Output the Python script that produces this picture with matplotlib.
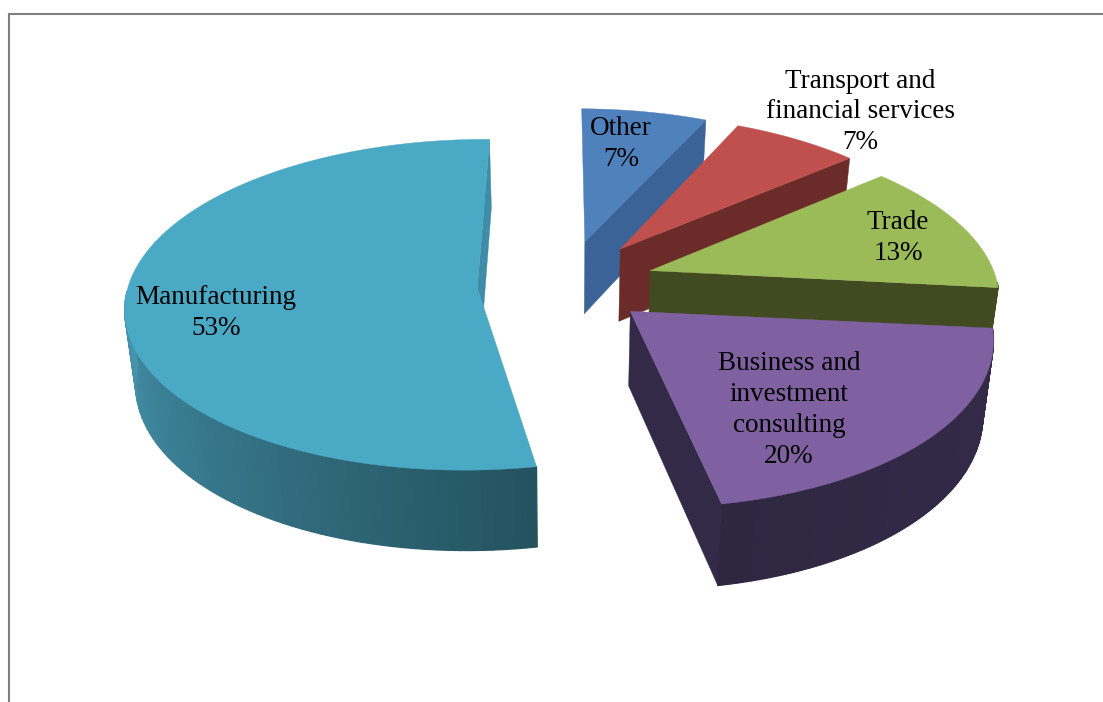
import numpy as np
import matplotlib
matplotlib.use("Agg")
import matplotlib.pyplot as plt
from matplotlib.patches import Polygon
from matplotlib.colors import to_rgb

# clockwise from the top of the pie
categories = ["Manufacturing", "Other", "Transport and\nfinancial services", "Trade",
              "Business and\ninvestment\nconsulting"]
values = [53, 7, 7, 13, 20]

top_colors = ["#4aa9c5", "#4f81bd", "#bf504d", "#9bbb59", "#7f60a0"]
face_colors = ["#3f8ca8", "#3b6397", "#6b2b29", "#414a20", "#332a48"]
wall_start = ["#24535f", "#3b6397", "#6b2b29", "#414a20", "#2f2742"]
wall_end = ["#4a9cb8", "#3b6397", "#6b2b29", "#414a20", "#352b4a"]
apex_shift = [10, 5, 5, 5, 7]
slice_shift = [(3, 1), (2, 2), (3, 2), (1, 3), (-1, 1)]
label_xy = [(216, 313), (621, 144), (860, 112), (898, 238), (789, 410)]
draw_order = [1, 2, 3, 4, 0]

START = -190.1
EXPLODE = 0.26
A, B, K = 345.0, 160.0, 0.161
CX, CY = 564.0, 273.6
DEPTH = 73.5


def project(x, y):
    # y > 0 is the far side of the disc
    p = 1 / (1 + K * y)
    return CX - 4 * y + A * x * p, CY - B * y * p, p


def lower(sx, sy, p):
    return CX + (sx - CX) * 0.975, sy + DEPTH * np.sqrt(p)


fig = plt.figure(figsize=(11.03, 7.02), dpi=100)
ax = fig.add_axes([0, 0, 1, 1])
ax.set_xlim(0, 1103)
ax.set_ylim(702, 0)
ax.axis("off")

# page frame
ax.plot([8.5, 8.5, 1103], [702, 13.5, 13.5], color="#808080", lw=1.5, solid_joinstyle="miter")

edges = START + np.cumsum([0] + values) * 3.6
for i in draw_order:
    z = 2 + draw_order.index(i)
    dx, dy = slice_shift[i]
    a0, a1 = edges[i], edges[i + 1]
    mid = np.radians((a0 + a1) / 2)
    ex, ey = EXPLODE * np.sin(mid), EXPLODE * np.cos(mid)
    phi = np.radians(np.linspace(a0, a1, 121))
    sx, sy, p = project(ex + np.sin(phi), ey + np.cos(phi))
    sx, sy = sx + dx, sy + dy
    bx, by = lower(sx, sy, p)
    ax_s, ay_s, ap = project(ex, ey)
    ax_s, ay_s = ax_s + dx, ay_s + dy + apex_shift[i]
    abx, aby = lower(ax_s, ay_s, ap)

    # only the closing radial face of each slice can be seen
    ax.add_patch(Polygon([(ax_s, ay_s), (sx[-1], sy[-1]), (bx[-1], by[-1]), (abx, aby)],
                         fc=face_colors[i], ec=face_colors[i], lw=0.3, zorder=z))
    # rim, shaded step by step; the far half is hidden
    c0, c1 = np.array(to_rgb(wall_start[i])), np.array(to_rgb(wall_end[i]))
    for j in range(len(phi) - 1):
        if np.cos(phi[j]) > -0.1:
            continue
        t = j / (len(phi) - 2)
        col = c0 + (c1 - c0) * np.clip(t * 1.8, 0, 1) if i == 0 else c1 + (c0 - c1) * t
        ax.add_patch(Polygon([(sx[j], sy[j]), (sx[j + 1], sy[j + 1]), (bx[j + 1], by[j + 1]), (bx[j], by[j])],
                             fc=col, ec=col, lw=0.9, zorder=z))
    # top surface
    pts = [(ax_s, ay_s)] + list(zip(sx, sy))
    ax.add_patch(Polygon(pts, fc=top_colors[i], ec=top_colors[i], lw=0.3, zorder=z))

for name, val, (lx, ly) in zip(categories, values, label_xy):
    ax.text(lx, ly, f"{name}\n{val}%", ha="center", va="center", fontsize=19.5,
            family="Liberation Serif", color="black", linespacing=1.3, zorder=20)

fig.savefig("out.png", dpi=100, facecolor="white")
